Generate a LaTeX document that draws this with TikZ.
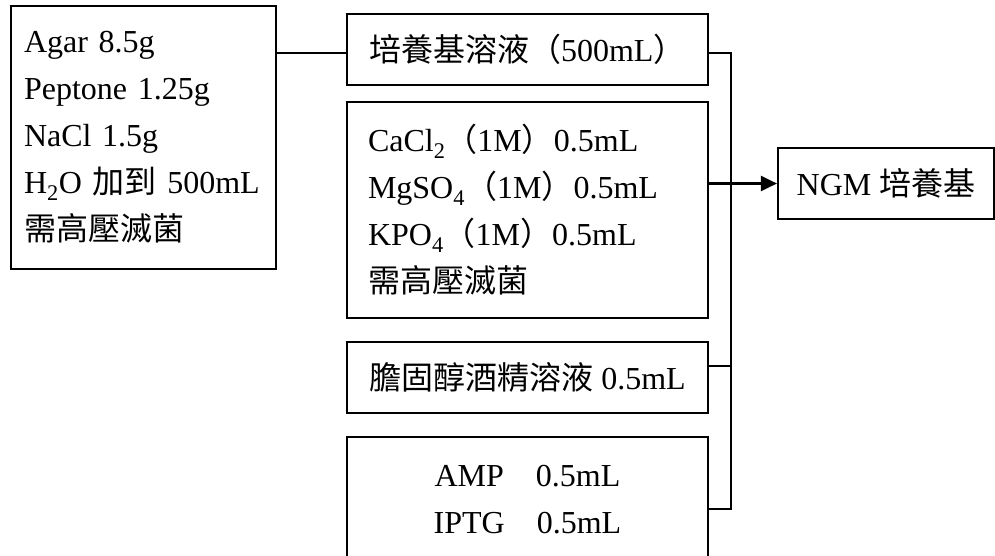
\documentclass[tikz,border=0pt]{standalone}
\usepackage{fontspec}
\setmainfont{Liberation Serif}
\newfontfamily\cjk{Noto Sans CJK TC}
\usetikzlibrary{arrows.meta}
\newcommand{\zh}[1]{{\cjk #1}}

\begin{document}
\begin{tikzpicture}[x=1pt, y=-1pt, >={Triangle[length=16pt,width=15pt]},
  box/.style={draw, line width=2.2pt, inner ysep=0pt, minimum height=71pt,
    font=\fontsize{32}{47}\selectfont},
  link/.style={line width=2.2pt}]
\clip (0,0) rectangle (995,555);
% recipe on the left
\node[box, align=left, text width=239pt, inner xsep=13pt, minimum height=263pt] (agar) at (143.5,137.5)
  {Agar 8.5g\\ Peptone 1.25g\\ NaCl 1.5g\\ H\textsubscript{2}O \zh{加到} 500mL\\ \zh{需高壓滅菌}};
% column of ingredients
\node[box, align=left, text width=317pt, inner xsep=22pt] (medium) at (527.5,49.5)
  {\zh{培養基溶液（}500mL\zh{）}};
\node[box, align=left, text width=319pt, inner xsep=21pt, minimum height=216pt] (salts) at (527.5,210)
  {CaCl\textsubscript{2}\zh{（}1M\zh{）}0.5mL\\
   MgSO\textsubscript{4}\zh{（}1M\zh{）}0.5mL\\
   KPO\textsubscript{4}\zh{（}1M\zh{）}0.5mL\\
   \zh{需高壓滅菌}};
\node[box, minimum width=361pt] (chol) at (527.5,377.5) {\zh{膽固醇酒精溶液} 0.5mL};
\node[box, align=center, minimum width=361pt, minimum height=126pt] (anti) at (527.5,500)
  {AMP\quad 0.5mL\\ IPTG\quad 0.5mL};
% result
\node[box, minimum width=216pt] (ngm) at (886,183.5) {NGM \zh{培養基}};
% connectors
\coordinate (jtop) at (731,53);
\coordinate (jmid) at (731,366);
\coordinate (jbot) at (731,509);
\draw[link] (agar.east |- jtop) -- (medium.west |- jtop);
\draw[link] (medium.east |- jtop) -- (jtop) -- (jbot) -- (anti.east |- jbot);
\draw[link] (chol.east |- jmid) -- (jmid);
\draw[link, ->] (salts.east |- ngm.west) -- (ngm.west);
\end{tikzpicture}
\end{document}
